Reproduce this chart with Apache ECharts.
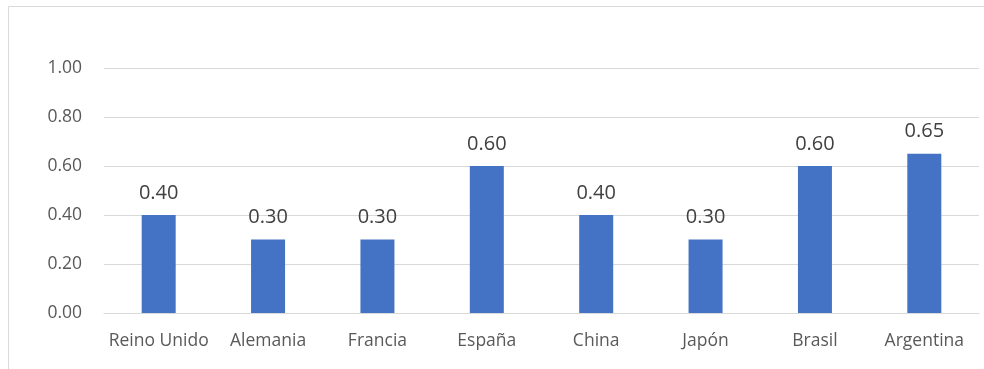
<!DOCTYPE html>
<html>
<head>
<meta charset="utf-8">
<script src="https://cdn.jsdelivr.net/npm/echarts@6/dist/echarts.min.js"></script>
<style>
  html, body { margin: 0; padding: 0; background: #fff; }
  #chart { width: 984px; height: 369px; }
</style>
</head>
<body>
<div id="chart"></div>
<script>
const categories = ["Reino Unido", "Alemania", "Francia", "España", "China", "Japón", "Brasil", "Argentina"];
const values = [0.40, 0.30, 0.30, 0.60, 0.40, 0.30, 0.60, 0.65];

const myChart = echarts.init(document.getElementById("chart"));
const option = {
  animation: false,
  textStyle: { fontFamily: "Open Sans" },
  graphic: [
    {
      type: "rect",
      shape: { x: 8.5, y: 6.5, width: 1000, height: 400 },
      style: { fill: "none", stroke: "#d9d9d9", lineWidth: 1 },
    },
  ],
  grid: { left: 104, right: 5, top: 68, bottom: 56 },
  xAxis: {
    type: "category",
    data: categories,
    axisTick: { show: false },
    axisLine: { lineStyle: { color: "#d9d9d9", width: 1 } },
    axisLabel: { color: "#595959", fontSize: 17.5, margin: 19, interval: 0 },
  },
  yAxis: {
    type: "value",
    min: 0,
    max: 1,
    interval: 0.2,
    axisLine: { show: false },
    axisTick: { show: false },
    splitLine: { lineStyle: { color: "#d9d9d9", width: 1 } },
    axisLabel: {
      color: "#595959",
      fontSize: 17.5,
      margin: 22,
      formatter: (v) => v.toFixed(2),
    },
  },
  series: [
    {
      type: "bar",
      data: values,
      barWidth: 34,
      itemStyle: { color: "#4472C4" },
      label: {
        show: true,
        position: "top",
        distance: 12,
        color: "#404040",
        fontSize: 20,
        formatter: (p) => p.value.toFixed(2),
      },
    },
  ],
};
myChart.setOption(option);
</script>
</body>
</html>
